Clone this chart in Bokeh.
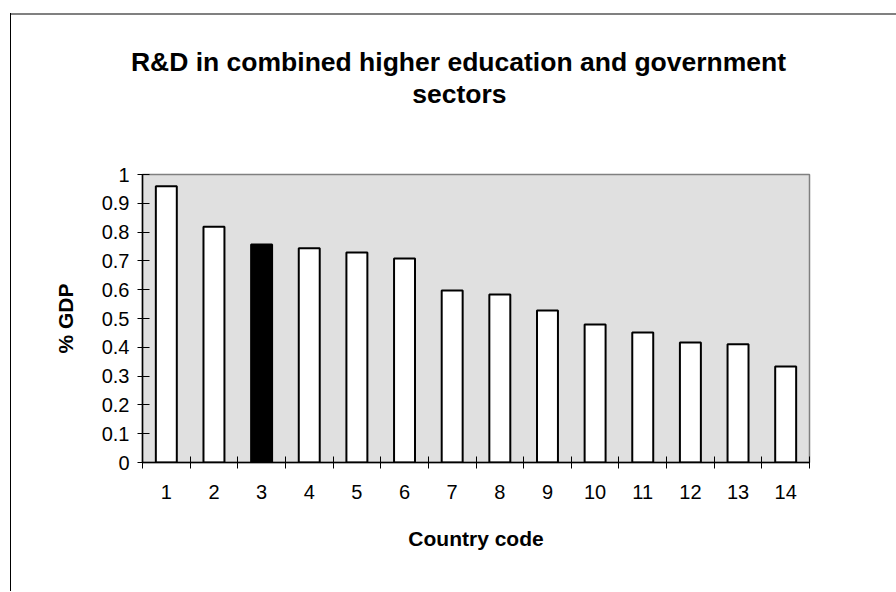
from bokeh.plotting import figure
from bokeh.models import FixedTicker, Range1d, Title, Spacer
from bokeh.layouts import column, row
from bokeh.embed import file_html
from bokeh.resources import INLINE

# ---- data ----
countries = list(range(1, 15))
rd_values = [0.959, 0.819, 0.757, 0.744, 0.729, 0.708, 0.597, 0.583, 0.528, 0.479, 0.451, 0.417, 0.411, 0.333]
highlight_country = 3
y_ticks = [0, 0.1, 0.2, 0.3, 0.4, 0.5, 0.6, 0.7, 0.8, 0.9, 1.0]
y_tick_labels = ["0", "0.1", "0.2", "0.3", "0.4", "0.5", "0.6", "0.7", "0.8", "0.9", "1"]
title_lines = ["R&D in combined higher education and government", "sectors"]
x_title = "Country code"
y_title = "% GDP"

FONT = "Liberation Sans"

W, H = 885, 568
p = figure(width=W, height=H, output_backend="svg", toolbar_location=None,
           x_range=Range1d(0.5, 14.5), y_range=Range1d(0, 1),
           min_border_left=131, min_border_right=87, min_border_top=159, min_border_bottom=121)
p.title.visible = False
p.background_fill_color = "#e0e0e0"
p.border_fill_color = "white"
p.outline_line_color = "#808080"
p.outline_line_width = 1.5
p.grid.visible = False

fills = ["black" if c == highlight_country else "white" for c in countries]
p.vbar(x=countries, top=rd_values, width=0.44, fill_color=fills,
       line_color="black", line_width=2)

# x axis
xa = p.xaxis[0]
xa.ticker = FixedTicker(ticks=countries, minor_ticks=[c - 0.5 for c in countries] + [countries[-1] + 0.5])
xa.major_tick_in = 0
xa.major_tick_out = 0
xa.minor_tick_in = 6
xa.minor_tick_out = 6
xa.minor_tick_line_color = "black"
xa.axis_line_color = "black"
xa.axis_line_width = 1.5
xa.major_label_text_font = FONT
xa.major_label_text_font_size = "20px"
xa.major_label_text_color = "black"
xa.major_label_standoff = 16
xa.axis_label = x_title
xa.axis_label_text_font = FONT
xa.axis_label_text_font_size = "21px"
xa.axis_label_text_font_style = "bold"
xa.axis_label_text_color = "black"
xa.axis_label_standoff = 25

# y axis
ya = p.yaxis[0]
ya.ticker = FixedTicker(ticks=y_ticks, minor_ticks=[])
ya.major_label_overrides = dict(zip(y_ticks, y_tick_labels))
ya.major_tick_in = 7
ya.major_tick_out = 5
ya.major_tick_line_color = "black"
ya.minor_tick_line_color = None
ya.axis_line_color = "black"
ya.axis_line_width = 1.5
ya.major_label_text_font = FONT
ya.major_label_text_font_size = "20px"
ya.major_label_text_color = "black"
ya.major_label_standoff = 8
ya.axis_label = y_title
ya.axis_label_text_font = FONT
ya.axis_label_text_font_size = "21px"
ya.axis_label_text_font_style = "bold"
ya.axis_label_text_color = "black"
ya.axis_label_standoff = 22

# two-line chart title, with a blank spacer title between it and the plot area
gap = Title(text=" ", text_font=FONT, text_font_size="10px", text_color="white", standoff=53)
t2 = Title(text=title_lines[1], align="left", offset=269.7, text_font=FONT, text_font_size="26.5px",
           text_font_style="bold", text_color="black", standoff=0)
t1 = Title(text=title_lines[0], align="left", offset=-11.6, text_font=FONT, text_font_size="26.5px",
           text_font_style="bold", text_color="black", standoff=0)
p.add_layout(gap, "above")
p.add_layout(t2, "above")
p.add_layout(t1, "above")

# outer chart-area border (left + top edges)
layout = column(
    Spacer(width=10, height=13),
    row(
        Spacer(width=10, height=H + 10),
        Spacer(width=1, height=H + 10, background="black"),
        column(Spacer(width=W, height=2, background="#808080"), p),
    ),
)

open("out.html", "w").write(file_html(layout, INLINE))
